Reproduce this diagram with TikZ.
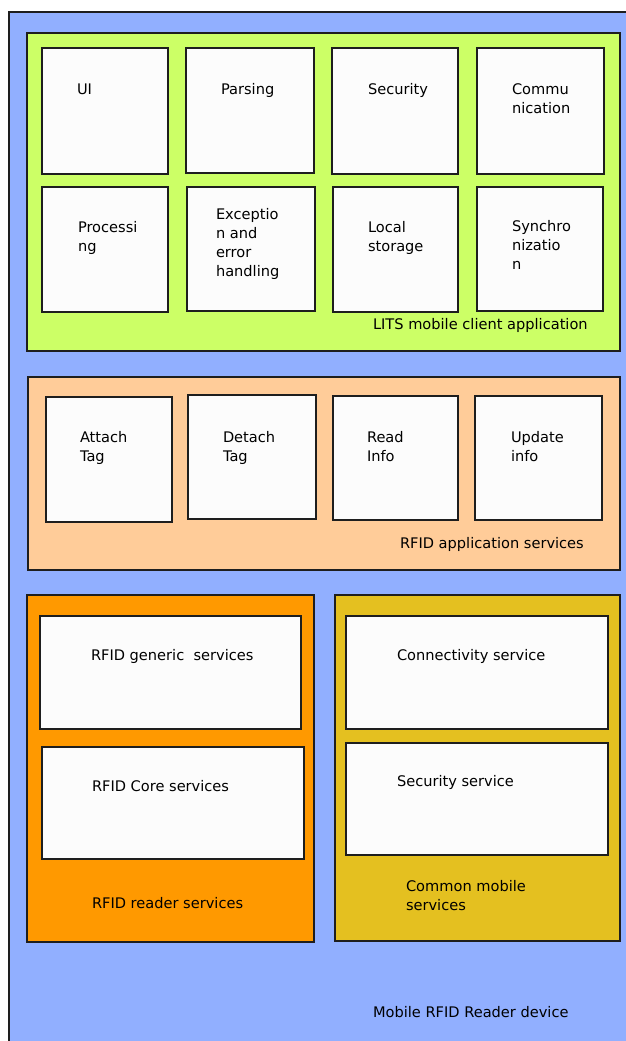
\documentclass[tikz,border=0pt]{standalone}
\usepackage{fontspec}
\setmainfont{DejaVu Sans}
\definecolor{devblue}{RGB}{145,175,255}
\definecolor{appgreen}{RGB}{204,255,102}
\definecolor{svcpeach}{RGB}{255,204,153}
\definecolor{rdrorange}{RGB}{255,153,0}
\definecolor{mobmustard}{RGB}{228,192,32}
\definecolor{boxwhite}{RGB}{252,252,252}
\definecolor{edge}{RGB}{30,30,30}
\tikzset{
  layer/.style={draw=edge, line width=1.5pt, inner sep=0pt, outer sep=0pt, anchor=north west},
  modbox/.style={layer, fill=boxwhite},
  % multi-line labels are placed by the baseline of their last line
  txt/.style={anchor=base west, inner sep=0pt, outer sep=0pt, align=left,
    font=\fontsize{14.6}{19.3}\selectfont, text=black}
}
% box: name, x, y (top-left), width, height, style
\newcommand{\mybox}[6]{\node[#6, minimum width=#4pt, minimum height=#5pt] (#1) at (#2,#3) {};}
\begin{document}
\begin{tikzpicture}[x=1pt,y=-1pt]
\useasboundingbox (0,0) rectangle (625,1041);
% device background, open at right and bottom
\fill[devblue] (9,12) rectangle (627,1043);
\draw[edge, line width=1.3pt] (9,1043) -- (9,12) -- (627,12);
\node[txt] (devlbl) at (373,1017) {Mobile RFID Reader device};

% LITS mobile client application
\mybox{lits}{27}{33}{593}{318}{layer, fill=appgreen}
\mybox{ui}{42}{48}{126}{126}{modbox}
\mybox{pars}{186}{48}{128}{125}{modbox}
\mybox{sec}{332}{48}{126}{126}{modbox}
\mybox{comm}{477}{48}{127}{126}{modbox}
\mybox{proc}{42}{187}{126}{125}{modbox}
\mybox{exc}{187}{187}{128}{124}{modbox}
\mybox{stor}{333}{187}{125}{125}{modbox}
\mybox{sync}{477}{187}{126}{124}{modbox}
\node[txt] (uil) at (77,94) {UI};
\node[txt] (parsl) at (221,94) {Parsing};
\node[txt] (secl) at (368,94) {Security};
\node[txt] (comml) at (512,113.3) {Commu\\nication};
\node[txt] (procl) at (78,251.3) {Processi\\ng};
\node[txt] (excl) at (216,276.9) {Exceptio\\n and\\error\\handling};
\node[txt] (storl) at (368,251.3) {Local\\storage};
\node[txt] (syncl) at (512,269.6) {Synchro\\nizatio\\n};
\node[txt] (litsl) at (373,329) {LITS mobile client application};

% RFID application services
\mybox{apps}{28}{377}{592}{193}{layer, fill=svcpeach}
\mybox{att}{46}{397}{126}{125}{modbox}
\mybox{det}{188}{395}{128}{124}{modbox}
\mybox{rd}{333}{396}{125}{124}{modbox}
\mybox{upd}{475}{396}{127}{124}{modbox}
\node[txt] (attl) at (80,461.3) {Attach\\Tag};
\node[txt] (detl) at (223,461.3) {Detach\\Tag};
\node[txt] (rdl) at (367,461.3) {Read\\Info};
\node[txt] (updl) at (511,461.3) {Update\\info};
\node[txt] (appsl) at (400,548) {RFID application services};

% RFID reader services
\mybox{rdr}{27}{595}{287}{347}{layer, fill=rdrorange}
\mybox{gen}{40}{616}{261}{113}{modbox}
\mybox{core}{42}{747}{262}{112}{modbox}
\node[txt] (genl) at (91,660) {RFID generic\ \ services};
\node[txt] (corel) at (92,791) {RFID Core services};
\node[txt] (rdrl) at (92,908) {RFID reader services};

% Common mobile services
\mybox{mob}{335}{595}{285}{346}{layer, fill=mobmustard}
\mybox{conn}{346}{616}{262}{113}{modbox}
\mybox{msec}{346}{743}{262}{112}{modbox}
\node[txt] (connl) at (397,660) {Connectivity service};
\node[txt] (msecl) at (397,786) {Security service};
\node[txt] (mobl) at (406,910.3) {Common mobile\\services};
\end{tikzpicture}
\end{document}
